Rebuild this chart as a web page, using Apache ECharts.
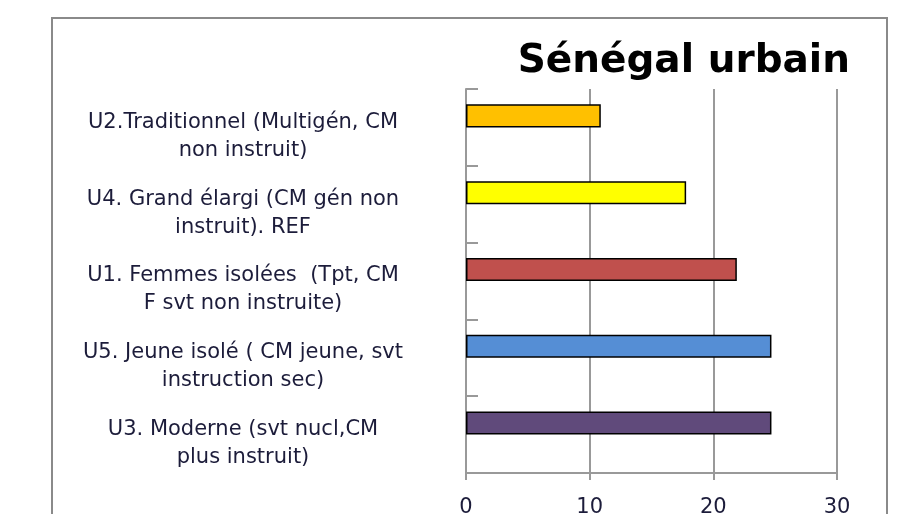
<!DOCTYPE html>
<html>
<head>
<meta charset="utf-8">
<script src="https://cdn.jsdelivr.net/npm/echarts@6/dist/echarts.min.js"></script>
<style>
  html, body { margin: 0; padding: 0; background: #fff; }
  #chart { width: 902px; height: 514px; }
</style>
</head>
<body>
<div id="chart"></div>
<script>
// categories, bottom to top (as in the Excel chart)
var categories = [
  'U3. Moderne (svt nucl,CM\nplus instruit)',
  'U5. Jeune isolé ( CM jeune, svt\ninstruction sec)',
  'U1. Femmes isolées  (Tpt, CM\nF svt non instruite)',
  'U4. Grand élargi (CM gén non\ninstruit). REF',
  'U2.Traditionnel (Multigén, CM\nnon instruit)'
];
var values = [24.7, 24.7, 21.9, 17.8, 10.9];
var barColors = ['#604A7B', '#558ED5', '#C0504D', '#FFFF00', '#FFC000'];
var xTicks = [0, 10, 20, 30];

var chart = echarts.init(document.getElementById('chart'));

var option = {
  animation: false,
  title: {
    text: 'Sénégal urbain',
    right: 47,
    top: 37,
    textStyle: { fontFamily: 'DejaVu Sans', fontWeight: 'bold', fontSize: 39, color: '#000' }
  },
  graphic: [{
    type: 'rect',
    shape: { x: 52, y: 18, width: 835, height: 520 },
    style: { fill: 'none', stroke: '#8a8a8a', lineWidth: 2 },
    silent: true
  }],
  grid: { left: 466, right: 65, top: 89, bottom: 41, outerBoundsMode: 'none' },
  xAxis: {
    type: 'value',
    min: xTicks[0],
    max: xTicks[xTicks.length - 1],
    interval: 10,
    axisLine: { show: true, lineStyle: { color: '#999', width: 2 } },
    axisTick: { show: true, length: 7, lineStyle: { color: '#999', width: 2 } },
    splitLine: { show: true, lineStyle: { color: '#999', width: 2 } },
    axisLabel: {
      margin: 24,
      fontFamily: 'DejaVu Sans',
      fontSize: 21,
      color: '#1c1c3a'
    }
  },
  yAxis: {
    type: 'category',
    data: categories,
    axisLine: { show: true, lineStyle: { color: '#999', width: 2 } },
    axisTick: { show: true, inside: true, length: 12, lineStyle: { color: '#999', width: 2 } },
    axisLabel: {
      interval: 0,
      hideOverlap: false,
      align: 'center',
      margin: 223,
      fontFamily: 'DejaVu Sans',
      fontSize: 21,
      lineHeight: 28,
      color: '#1c1c3a',
      // blank spacer line on top pushes the two text lines a bit below the tick centre
      formatter: function (v) { return '{s|}\n' + v; },
      rich: { s: { height: 18, lineHeight: 18 } }
    }
  },
  series: [
    {
      type: 'bar',
      data: values.map(function (v, i) {
        return { value: v, itemStyle: { color: barColors[i] } };
      }),
      barGap: '0%',
      barCategoryGap: '40%',
      itemStyle: { borderColor: '#000', borderWidth: 1.5 }
    },
    {
      type: 'bar',
      data: values.map(function () { return null; })
    }
  ]
};

chart.setOption(option);
</script>
</body>
</html>
